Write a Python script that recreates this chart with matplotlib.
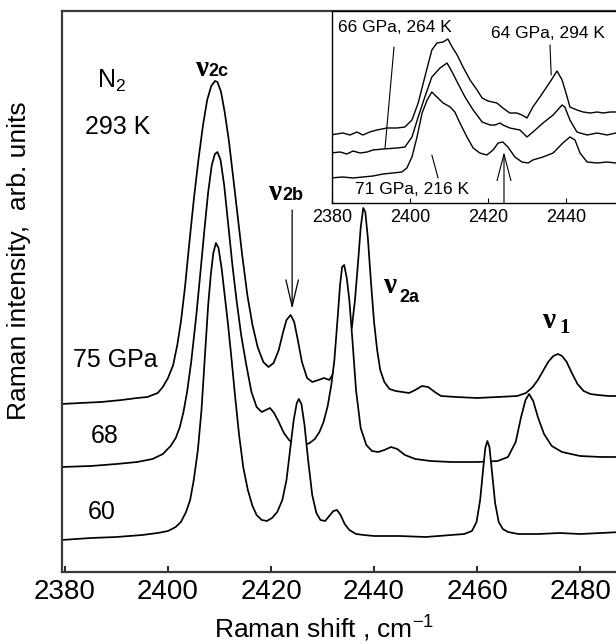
import matplotlib
matplotlib.use('Agg')
import matplotlib.pyplot as plt

plt.rcParams['font.family'] = 'Liberation Sans'
plt.rcParams['mathtext.fontset'] = 'custom'
plt.rcParams['mathtext.rm'] = 'Liberation Sans'
plt.rcParams['mathtext.it'] = 'Liberation Sans:italic'
plt.rcParams['mathtext.bf'] = 'Liberation Sans:bold'

# --- main panel: N2 at 293 K, spectra offset vertically (arb. units) ---
shift_60 = [2379.3, 2385, 2390, 2395, 2398, 2400, 2401.5, 2402.5, 2403.5, 2404.3, 2405.0, 2405.8,
            2406.5, 2407.3, 2407.8, 2408.3, 2408.8, 2409.3, 2409.8, 2410.4, 2411.0, 2411.6, 2412.2,
            2413.0, 2413.8, 2414.6, 2415.5, 2416.4, 2417.2, 2418.2, 2419.2, 2420.2, 2421.2, 2422.2,
            2423.0, 2423.7, 2424.4, 2425.0, 2425.4, 2425.9, 2426.5, 2427.2, 2428.0, 2428.8, 2429.6,
            2430.5, 2431.3, 2432.1, 2432.8, 2433.5, 2434.3, 2435.2, 2436.5, 2438, 2440, 2445, 2450,
            2455, 2457.5, 2459, 2459.9, 2460.6, 2461.2, 2461.6, 2462.0, 2462.4, 2462.9, 2463.5,
            2464.2, 2465.0, 2466.0, 2468, 2472, 2476, 2480, 2484, 2488]
int_60 = [32, 34, 35, 37, 39, 41, 45, 50, 60, 72, 92, 122, 162, 227, 267, 297, 319, 329, 324, 304,
          277, 250, 220, 177, 137, 105, 82, 66, 57, 52, 51, 54, 60, 72, 92, 122, 152, 169, 173, 168,
          147, 112, 77, 59, 52, 51, 56, 61, 62, 57, 48, 42, 38, 37, 36, 36, 35, 37, 38, 41, 50, 72,
          104, 124, 131, 125, 100, 69, 50, 43, 40, 38, 38, 39, 38, 39, 40]

shift_68 = [2379.3, 2385, 2390, 2394, 2397, 2399, 2400.5, 2401.5, 2402.3, 2403.0, 2403.7, 2404.5,
            2405.5, 2406.3, 2407.1, 2407.8, 2408.5, 2409.1, 2409.6, 2410.2, 2410.9, 2411.7, 2412.5,
            2413.3, 2414.2, 2415.2, 2416.2, 2417.2, 2418.2, 2419.0, 2419.8, 2420.6, 2421.5, 2422.5,
            2423.5, 2424.5, 2425.5, 2426.5, 2427.5, 2428.5, 2429.4, 2430.2, 2431.0, 2431.7, 2432.3,
            2432.9, 2433.4, 2433.8, 2434.2, 2434.7, 2435.2, 2435.8, 2436.5, 2437.4, 2438.5, 2439.6,
            2440.8, 2442.0, 2443.3, 2444.5, 2446, 2448, 2451, 2455, 2460, 2464, 2466, 2467.5, 2468.5,
            2469.4, 2470.1, 2470.9, 2471.8, 2473, 2474.5, 2476.5, 2480, 2484, 2488]
int_68 = [105, 106, 108, 110, 113, 118, 126, 134, 145, 160, 180, 210, 257, 300, 344, 380, 407, 418,
          420, 412, 387, 347, 307, 272, 237, 207, 180, 165, 160, 162, 164, 159, 150, 139, 132, 128,
          127, 127, 129, 133, 140, 150, 166, 187, 212, 252, 287, 305, 307, 294, 272, 232, 182, 144,
          127, 121, 120, 122, 125, 123, 117, 113, 111, 110, 110, 111, 115, 130, 154, 172, 178, 171,
          155, 138, 126, 120, 116, 115, 115]

shift_75 = [2379.3, 2383, 2387, 2391, 2394, 2396, 2398, 2399, 2400, 2401, 2401.8, 2402.5, 2403.3,
            2404.1, 2405.0, 2405.9, 2406.8, 2407.6, 2408.4, 2409.1, 2409.6, 2410.3, 2411.0, 2411.8,
            2412.6, 2413.5, 2414.4, 2415.4, 2416.4, 2417.4, 2418.5, 2419.5, 2420.5, 2421.5, 2422.3,
            2423.0, 2423.8, 2424.5, 2425.2, 2426.0, 2427.0, 2428.0, 2429.2, 2430.3, 2431.3, 2432.3,
            2433.3, 2434.3, 2435.0, 2435.7, 2436.3, 2436.9, 2437.4, 2437.9, 2438.3, 2438.8, 2439.4,
            2440.0, 2440.6, 2441.2, 2442.0, 2443.0, 2444.2, 2445.5, 2446.8, 2448.0, 2449.3, 2450.5,
            2451.8, 2453, 2456, 2460, 2464, 2467.8, 2469.5, 2470.8, 2471.8, 2472.8, 2473.8, 2474.8,
            2475.7, 2476.5, 2477.4, 2478.4, 2479.5, 2480.7, 2482, 2483.5, 2485.5, 2488]
int_75 = [168, 169, 170, 172, 174, 175, 179, 185, 194, 207, 227, 250, 285, 327, 372, 412, 447, 472,
          486, 491, 490, 480, 460, 432, 397, 357, 317, 277, 247, 225, 210, 205, 209, 222, 239, 252,
          257, 250, 232, 210, 194, 190, 192, 194, 192, 200, 210, 222, 232, 245, 272, 310, 344, 364,
          360, 334, 290, 250, 222, 202, 190, 183, 181, 180, 179, 182, 186, 185, 180, 176, 175, 174,
          175, 176, 179, 185, 192, 201, 210, 216, 218, 216, 210, 199, 188, 181, 178, 177, 176, 176]

# --- inset: spectra at other P-T points ---
ins_x_64 = [2379.5, 2382.8, 2384.6, 2386.4, 2387.9, 2389.7, 2391.5, 2394.1, 2396.7, 2398.7, 2400.5,
            2402.1, 2403.8, 2405.6, 2406.9, 2408.5, 2409.7, 2410.8, 2412.1, 2413.6, 2415.4, 2417.2,
            2418.5, 2420.0, 2422.3, 2423.8, 2425.6, 2427.4, 2428.7, 2430.0, 2431.5, 2433.3, 2435.9,
            2437.7, 2439.0, 2440.3, 2441.0, 2442.8, 2444.4, 2446.2, 2448.0, 2449.5, 2451.3, 2452.8]
ins_y_64 = [68, 70, 68, 71, 68, 71, 73, 75, 75, 76, 83, 100, 126, 153, 160, 161, 164, 156, 148, 136,
            123, 113, 105, 102, 100, 95, 90, 90, 88, 85, 96, 106, 121, 132, 123, 106, 96, 93, 91, 90,
            91, 90, 91, 91]

ins_x_66 = [2379.5, 2382.1, 2383.8, 2385.4, 2387.2, 2389.0, 2390.5, 2393.1, 2396.7, 2398.7, 2400.5,
            2402.1, 2403.8, 2405.6, 2407.7, 2409.5, 2410.8, 2412.1, 2414.1, 2416.2, 2418.5, 2420.5,
            2421.8, 2423.1, 2423.8, 2425.6, 2428.2, 2430.0, 2432.1, 2434.1, 2436.7, 2439.0, 2439.7,
            2441.0, 2442.8, 2445.4, 2448.0, 2450.5, 2452.8]
ins_y_66 = [50, 51, 49, 52, 50, 51, 53, 54, 55, 56, 66, 86, 106, 126, 135, 140, 131, 121, 106, 93,
            81, 78, 78, 80, 78, 75, 73, 66, 73, 80, 88, 98, 96, 83, 71, 68, 70, 68, 70]

ins_x_71 = [2379.5, 2382.8, 2385.4, 2387.9, 2390.5, 2393.1, 2395.6, 2397.9, 2399.2, 2400.5, 2401.8,
            2403.1, 2404.4, 2405.6, 2406.9, 2408.5, 2410.3, 2411.5, 2412.8, 2414.6, 2416.2, 2417.9,
            2419.7, 2421.3, 2422.6, 2423.8, 2425.1, 2426.9, 2428.7, 2430.3, 2431.5, 2434.1, 2436.7,
            2439.2, 2441.0, 2442.3, 2443.6, 2445.4, 2448.0, 2450.5, 2452.8]
ins_y_71 = [25, 26, 25, 26, 27, 29, 30, 31, 35, 46, 66, 90, 103, 111, 106, 100, 96, 91, 80, 66, 55,
            50, 48, 53, 60, 61, 56, 46, 41, 40, 43, 46, 50, 60, 66, 63, 50, 41, 40, 41, 40]

main_ticks = [2380, 2400, 2420, 2440, 2460, 2480]
inset_ticks = [2380, 2400, 2420, 2440]

fig = plt.figure(figsize=(6.16, 6.44), dpi=100)

# axes run off the right edge of the figure, as in the original
ax = fig.add_axes([62 / 616, 72 / 644, 569.6 / 616, 561 / 644])
ax.set_xlim(2379.42, 2490)
ax.set_ylim(0, 561)

# each spectrum hides the ones behind it (white underfill)
ax.plot(shift_75, int_75, color='black', lw=1.25, zorder=1.0)
ax.fill_between(shift_68, int_68, 0, color='white', lw=0, zorder=1.1)
ax.plot(shift_68, int_68, color='black', lw=1.25, zorder=1.2)
ax.fill_between(shift_60, int_60, 0, color='white', lw=0, zorder=1.3)
ax.plot(shift_60, int_60, color='black', lw=1.25, zorder=1.4)

ax.set_xticks(main_ticks)
ax.set_yticks([])
ax.tick_params(axis='x', direction='in', length=4.5, width=1.2, labelsize=20, pad=5)
for s in ['left', 'bottom', 'top']:
    ax.spines[s].set_color('#3a3a3a')
    ax.spines[s].set_linewidth(1.6)
ax.spines['right'].set_visible(False)

ax.text(2386.2, 484, r'N$_2$', fontsize=18, ha='left', va='baseline')
ax.text(2390.3, 445, '293 K', fontsize=18, ha='center', va='center')
ax.text(2389.7, 212, '75 GPa', fontsize=18, ha='center', va='center')
ax.text(2387.8, 136, '68', fontsize=18, ha='center', va='center')
ax.text(2387.2, 60, '60', fontsize=18, ha='center', va='center')

nu_font = dict(family='Liberation Serif', fontsize=21, fontweight='bold', ha='left', va='baseline')
sub_font = dict(family='Liberation Sans', fontsize=13, fontweight='bold', ha='left', va='baseline')
ax.text(2405.2, 496, 'ν', **nu_font)
ax.text(2407.9, 496, '2c', **sub_font)
ax.text(2419.4, 372, 'ν', **nu_font)
ax.text(2422.2, 372, '2b', **sub_font)
ax.text(2441.7, 279, 'ν', **nu_font)
ax.text(2445.0, 270, '2a', **sub_font)
ax.text(2472.6, 244, 'ν', **nu_font)
ax.text(2475.9, 239, '1', family='Liberation Serif', fontsize=15, fontweight='bold',
        ha='left', va='baseline')

ax.annotate('', xy=(2424.1, 263), xytext=(2424.1, 362),
            arrowprops=dict(arrowstyle='->,head_length=1.9,head_width=0.45',
                            color='black', lw=0.9, shrinkA=0, shrinkB=0))

fig.text(324 / 616, 1 - 638 / 644, r'Raman shift , cm$^{-1}$', fontsize=19,
         ha='center', va='baseline')
fig.text(19 / 616, 1 - 261 / 644, 'Raman intensity,  arb. units', fontsize=19,
         rotation=90, ha='center', va='center')

# inset
axi = fig.add_axes([332 / 616, 441 / 644, 292.5 / 616, 192 / 644])
axi.set_xlim(2380, 2455)
axi.set_ylim(0, 192)
axi.plot(ins_x_64, ins_y_64, color='black', lw=1.0)
axi.plot(ins_x_66, ins_y_66, color='black', lw=1.0)
axi.plot(ins_x_71, ins_y_71, color='black', lw=1.0)
axi.set_xticks(inset_ticks)
axi.set_yticks([])
axi.tick_params(axis='x', direction='in', length=3.5, width=0.8, labelsize=13, pad=4)
for s in ['left', 'bottom', 'top']:
    axi.spines[s].set_linewidth(1.0)
axi.spines['right'].set_visible(False)

axi.text(2396.2, 176, '66 GPa, 264 K', fontsize=12.5, ha='center', va='center')
axi.text(2435.4, 170, '64 GPa, 294 K', fontsize=12.5, ha='center', va='center')
axi.text(2400.5, 14, '71 GPa, 216 K', fontsize=12.5, ha='center', va='center')

line = dict(arrowstyle='-', color='black', lw=0.8, shrinkA=0, shrinkB=0)
axi.annotate('', xy=(2393.6, 55), xytext=(2395.9, 156), arrowprops=line)
axi.annotate('', xy=(2436.2, 128), xytext=(2435.9, 158), arrowprops=line)
axi.annotate('', xy=(2407.2, 25), xytext=(2405.6, 48), arrowprops=line)
axi.annotate('', xy=(2424.1, 51), xytext=(2424.1, 0),
             arrowprops=dict(arrowstyle='->,head_length=1.9,head_width=0.5',
                             color='black', lw=0.8, shrinkA=0, shrinkB=0))

fig.savefig('out.png', dpi=100)
